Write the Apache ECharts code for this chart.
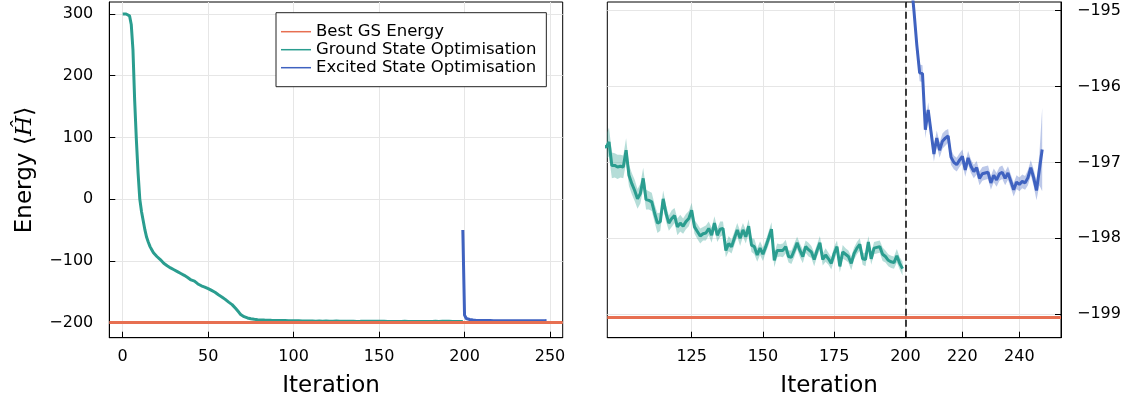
<!DOCTYPE html>
<html><head><meta charset="utf-8">
<script src="https://cdn.jsdelivr.net/npm/echarts@6/dist/echarts.min.js"></script>
<style>html,body{margin:0;padding:0;background:#fff}#c{width:1127px;height:400px}</style>
</head><body><div id="c"></div>
<script>
// ---------------- data ----------------
const gsStart = 0;
const gsEnergy = [
 300, 300, 300, 300, 297, 283, 242, 160, 96, 42,
 0, -20, -35, -50, -62, -70, -77, -82, -87, -90,
 -93, -96, -98, -101, -104, -106, -108, -110, -111.5, -113,
 -114.5, -116, -117.5, -119, -120.5, -122, -123.5, -125, -127, -129,
 -131, -132, -133, -135, -137.5, -139.5, -140.5, -141.5, -142.5, -143.5,
 -145, -146.5, -148, -149.5, -151, -153, -155, -157, -158.5, -160.5,
 -162.5, -165, -167, -169, -171, -174, -177, -180, -183.5, -187,
 -189, -190.5, -191.8, -192.6, -193.3, -193.9, -194.4, -194.8, -195.1, -195.4,
 -195.6, -195.8, -196.0, -196.1, -196.2, -196.3, -196.4, -196.5, -196.55, -196.6,
 -196.65, -196.7, -196.72, -196.75, -196.78,
 -196.8, -196.73, -197.04, -197.04, -197.06, -197.05, -197.06, -196.84, -197.17, -197.28,
 -197.37, -197.48, -197.41, -197.21, -197.49, -197.50, -197.52, -197.67, -197.80, -197.78,
 -197.48, -197.67, -197.80, -197.74, -197.70, -197.85, -197.80, -197.84, -197.78, -197.74,
 -197.63, -197.85, -197.91, -197.97, -197.94, -197.93, -197.87, -197.96, -197.80, -197.96,
 -197.88, -197.87, -198.16, -198.07, -198.11, -198.00, -197.89, -198.00, -197.89, -197.98,
 -197.84, -198.09, -198.11, -198.22, -198.13, -198.21, -198.11, -198.00, -197.88, -198.29,
 -198.16, -198.16, -198.16, -198.11, -198.24, -198.25, -198.16, -198.06, -198.16, -198.24,
 -198.11, -198.15, -198.18, -198.28, -198.16, -198.06, -198.28, -198.22, -198.27, -198.33,
 -198.20, -198.11, -198.37, -198.18, -198.21, -198.24, -198.33, -198.20, -198.13, -198.08,
 -198.27, -198.28, -198.05, -198.27, -198.13, -198.12, -198.11, -198.21, -198.24, -198.29,
 -198.31, -198.32, -198.23, -198.33, -198.40
];
const esStart = 199;
const esEnergy = [
 -50, -188, -193.5, -194.6, -195.0, -195.45, -195.82, -195.83, -196.57, -196.31,
 -196.6, -196.89, -196.68, -196.84, -196.72, -196.68, -196.65, -196.93, -197.0, -197.03,
 -196.97, -196.92, -197.1, -196.94, -197.05, -197.12, -197.07, -197.21, -197.15, -197.14,
 -197.13, -197.27, -197.17, -197.23, -197.15, -197.13, -197.21, -197.14, -197.25, -197.36,
 -197.26, -197.29, -197.25, -197.27, -197.2, -197.07, -197.2, -197.37, -197.1, -196.83
];
const gsErrStart = 95;
const gsErr = [
 0.16, 0.19, 0.17, 0.16, 0.16, 0.15, 0.15, 0.16, 0.14, 0.14,
 0.14, 0.13, 0.13, 0.14, 0.13, 0.12, 0.12, 0.12, 0.13, 0.12,
 0.11, 0.11, 0.10, 0.11, 0.10, 0.11, 0.11, 0.10, 0.10, 0.10,
 0.10, 0.09, 0.10, 0.10, 0.09, 0.10, 0.09, 0.10, 0.09, 0.09,
 0.10, 0.09, 0.09, 0.10, 0.09, 0.09, 0.09, 0.10, 0.09, 0.09,
 0.09, 0.09, 0.10, 0.09, 0.09, 0.09, 0.08, 0.09, 0.09, 0.09,
 0.09, 0.08, 0.09, 0.09, 0.08, 0.09, 0.09, 0.08, 0.09, 0.09,
 0.08, 0.09, 0.08, 0.09, 0.08, 0.09, 0.08, 0.09, 0.08, 0.08,
 0.09, 0.08, 0.08, 0.09, 0.08, 0.08, 0.09, 0.08, 0.08, 0.08,
 0.08, 0.09, 0.08, 0.08, 0.08, 0.08, 0.08, 0.09, 0.08, 0.08,
 0.08, 0.08, 0.09, 0.08, 0.09
];
const esErrStart = 202;
const esErr = [
 0.11, 0.11, 0.11, 0.11, 0.11, 0.11, 0.10, 0.10, 0.10, 0.10,
 0.10, 0.10, 0.10, 0.09, 0.10, 0.09, 0.09, 0.09, 0.09, 0.09,
 0.09, 0.09, 0.09, 0.09, 0.09, 0.09, 0.09, 0.09, 0.09, 0.09,
 0.09, 0.09, 0.09, 0.09, 0.09, 0.09, 0.09, 0.09, 0.09, 0.09,
 0.09, 0.10, 0.10, 0.11, 0.13, 0.2, 0.55
];
const bestGS = -199.04;
const switchIter = 200;
const leftXTicks = [0, 50, 100, 150, 200, 250];
const leftYTicks = [-200, -100, 0, 100, 200, 300];
const rightXTicks = [125, 150, 175, 200, 220, 240];
const rightYTicks = [-199, -198, -197, -196, -195];
const legendNames = ['Best GS Energy', 'Ground State Optimisation', 'Excited State Optimisation'];

// ---------------- build ----------------
const C_RED = '#e76f51', C_GRN = '#2a9d8f', C_BLU = '#3f62c0';
const FONT = 'DejaVu Sans';
const gsData = gsEnergy.map((v, i) => [gsStart + i, v]);
const esData = esEnergy.map((v, i) => [esStart + i, v]);
function bandData(err, start, vals, vStart) {
  return err.map((e, i) => {
    const x = start + i, v = vals[x - vStart];
    return [x, v - e, v + e];
  });
}
const gsBand = bandData(gsErr, gsErrStart, gsEnergy, gsStart);
const esBand = bandData(esErr, esErrStart, esEnergy, esStart);
const minus = v => String(v).replace('-', '\u2212');

function ribbon(name, data, color) {
  return {
    type: 'custom', name, xAxisIndex: 1, yAxisIndex: 1, clip: true, silent: true,
    encode: { x: 0, y: [1, 2] }, data,
    renderItem(params, api) {
      if (params.dataIndex !== 0) return null;
      const up = data.map(d => api.coord([d[0], d[2]]));
      const lo = data.map(d => api.coord([d[0], d[1]])).reverse();
      return { type: 'polygon', shape: { points: up.concat(lo) },
               style: { fill: color, opacity: 0.35 } };
    }
  };
}

function xAxis(idx, min, max, ticks) {
  return {
    type: 'value', gridIndex: idx, min, max,
    axisLine: { show: true, onZero: false, lineStyle: { color: '#000', width: 1 } },
    axisTick: { show: true, inside: true, length: 6, customValues: ticks, lineStyle: { color: '#000' } },
    axisLabel: { customValues: ticks, formatter: minus, fontFamily: FONT, fontSize: 16, color: '#000', margin: 11 },
    splitLine: { show: true, lineStyle: { color: '#e6e6e6', width: 1 } },
    name: 'Iteration', nameLocation: 'middle', nameGap: 37,
    nameTextStyle: { fontFamily: FONT, fontSize: 23, color: '#000', padding: [0, 10, 0, 0] }
  };
}
function yAxis(idx, min, max, ticks, pos) {
  return {
    type: 'value', gridIndex: idx, min, max, position: pos,
    axisLine: { show: true, onZero: false, lineStyle: { color: '#000', width: 1 } },
    axisTick: { show: true, inside: true, length: 6, customValues: ticks, lineStyle: { color: '#000' } },
    axisLabel: { customValues: ticks, formatter: minus, fontFamily: FONT, fontSize: 16, color: '#000', margin: 16 },
    splitLine: { show: true, lineStyle: { color: '#e6e6e6', width: 1 } }
  };
}
const yL = yAxis(0, -224.6, 319.4, leftYTicks, 'left');
yL.name = '{a|Energy }{b|⟨}{c|Ĥ}{b|⟩}';
yL.nameLocation = 'middle';
yL.nameGap = 72;
yL.nameTextStyle = {
  rich: {
    a: { fontFamily: FONT, fontSize: 23, color: '#000' },
    b: { fontFamily: 'DejaVu Serif', fontSize: 24, color: '#000' },
    c: { fontFamily: 'DejaVu Serif', fontStyle: 'italic', fontSize: 23, color: '#000' }
  }
};

const lineBase = { type: 'line', showSymbol: false, symbol: 'none', clip: true, animation: false };
const series = [
  Object.assign({}, lineBase, {
    name: 'Best GS Energy', xAxisIndex: 0, yAxisIndex: 0, data: [],
    itemStyle: { color: C_RED }, lineStyle: { color: C_RED, width: 3 },
    markLine: { silent: true, symbol: ['none', 'none'], animation: false, label: { show: false },
      lineStyle: { color: C_RED, width: 3, type: 'solid' }, data: [{ yAxis: bestGS }] }
  }),
  Object.assign({}, lineBase, {
    name: 'Ground State Optimisation', xAxisIndex: 0, yAxisIndex: 0, data: gsData,
    itemStyle: { color: C_GRN }, lineStyle: { color: C_GRN, width: 3 }
  }),
  Object.assign({}, lineBase, {
    name: 'Excited State Optimisation', xAxisIndex: 0, yAxisIndex: 0, data: esData,
    itemStyle: { color: C_BLU }, lineStyle: { color: C_BLU, width: 3 }
  }),
  // right panel
  Object.assign({}, lineBase, {
    name: 'Best GS Energy', xAxisIndex: 1, yAxisIndex: 1, data: [],
    itemStyle: { color: C_RED }, lineStyle: { color: C_RED, width: 3 },
    markLine: { silent: true, symbol: ['none', 'none'], animation: false, label: { show: false },
      lineStyle: { color: C_RED, width: 3, type: 'solid' },
      data: [{ yAxis: bestGS },
             { xAxis: switchIter, lineStyle: { color: '#000', width: 1.5, type: [7, 4] } }] }
  }),
  ribbon('gsRibbon', gsBand, C_GRN),
  ribbon('esRibbon', esBand, C_BLU),
  Object.assign({}, lineBase, {
    name: 'Ground State Optimisation', xAxisIndex: 1, yAxisIndex: 1, data: gsData,
    itemStyle: { color: C_GRN }, lineStyle: { color: C_GRN, width: 3 }
  }),
  Object.assign({}, lineBase, {
    name: 'Excited State Optimisation', xAxisIndex: 1, yAxisIndex: 1, data: esData,
    itemStyle: { color: C_BLU }, lineStyle: { color: C_BLU, width: 3 }
  })
];

const chart = echarts.init(document.getElementById('c'), null, { renderer: 'canvas' });
chart.setOption({
  animation: false,
  backgroundColor: '#fff',
  grid: [
    { left: 109.3, top: 2, width: 453.4, height: 335.7, show: true, borderColor: '#000', borderWidth: 1, containLabel: false, outerBoundsMode: 'none' },
    { left: 607.3, top: 2, width: 453.7, height: 335.7, show: true, borderColor: '#000', borderWidth: 1, containLabel: false, outerBoundsMode: 'none' }
  ],
  xAxis: [xAxis(0, -7.84, 257.43, leftXTicks), xAxis(1, 95.4, 254.6, rightXTicks)],
  yAxis: [yL, yAxis(1, -199.31, -194.886, rightYTicks, 'right')],
  legend: {
    data: legendNames, orient: 'vertical', left: 276, top: 12.7,
    backgroundColor: '#fff', borderColor: '#222', borderWidth: 1,
    padding: [10, 10, 10, 5], itemGap: 0, itemWidth: 30, itemHeight: 1.5, icon: 'rect',
    selectedMode: false,
    textStyle: { fontFamily: FONT, fontSize: 16.5, color: '#000', lineHeight: 18 }
  },
  series
});
</script>
</body></html>
